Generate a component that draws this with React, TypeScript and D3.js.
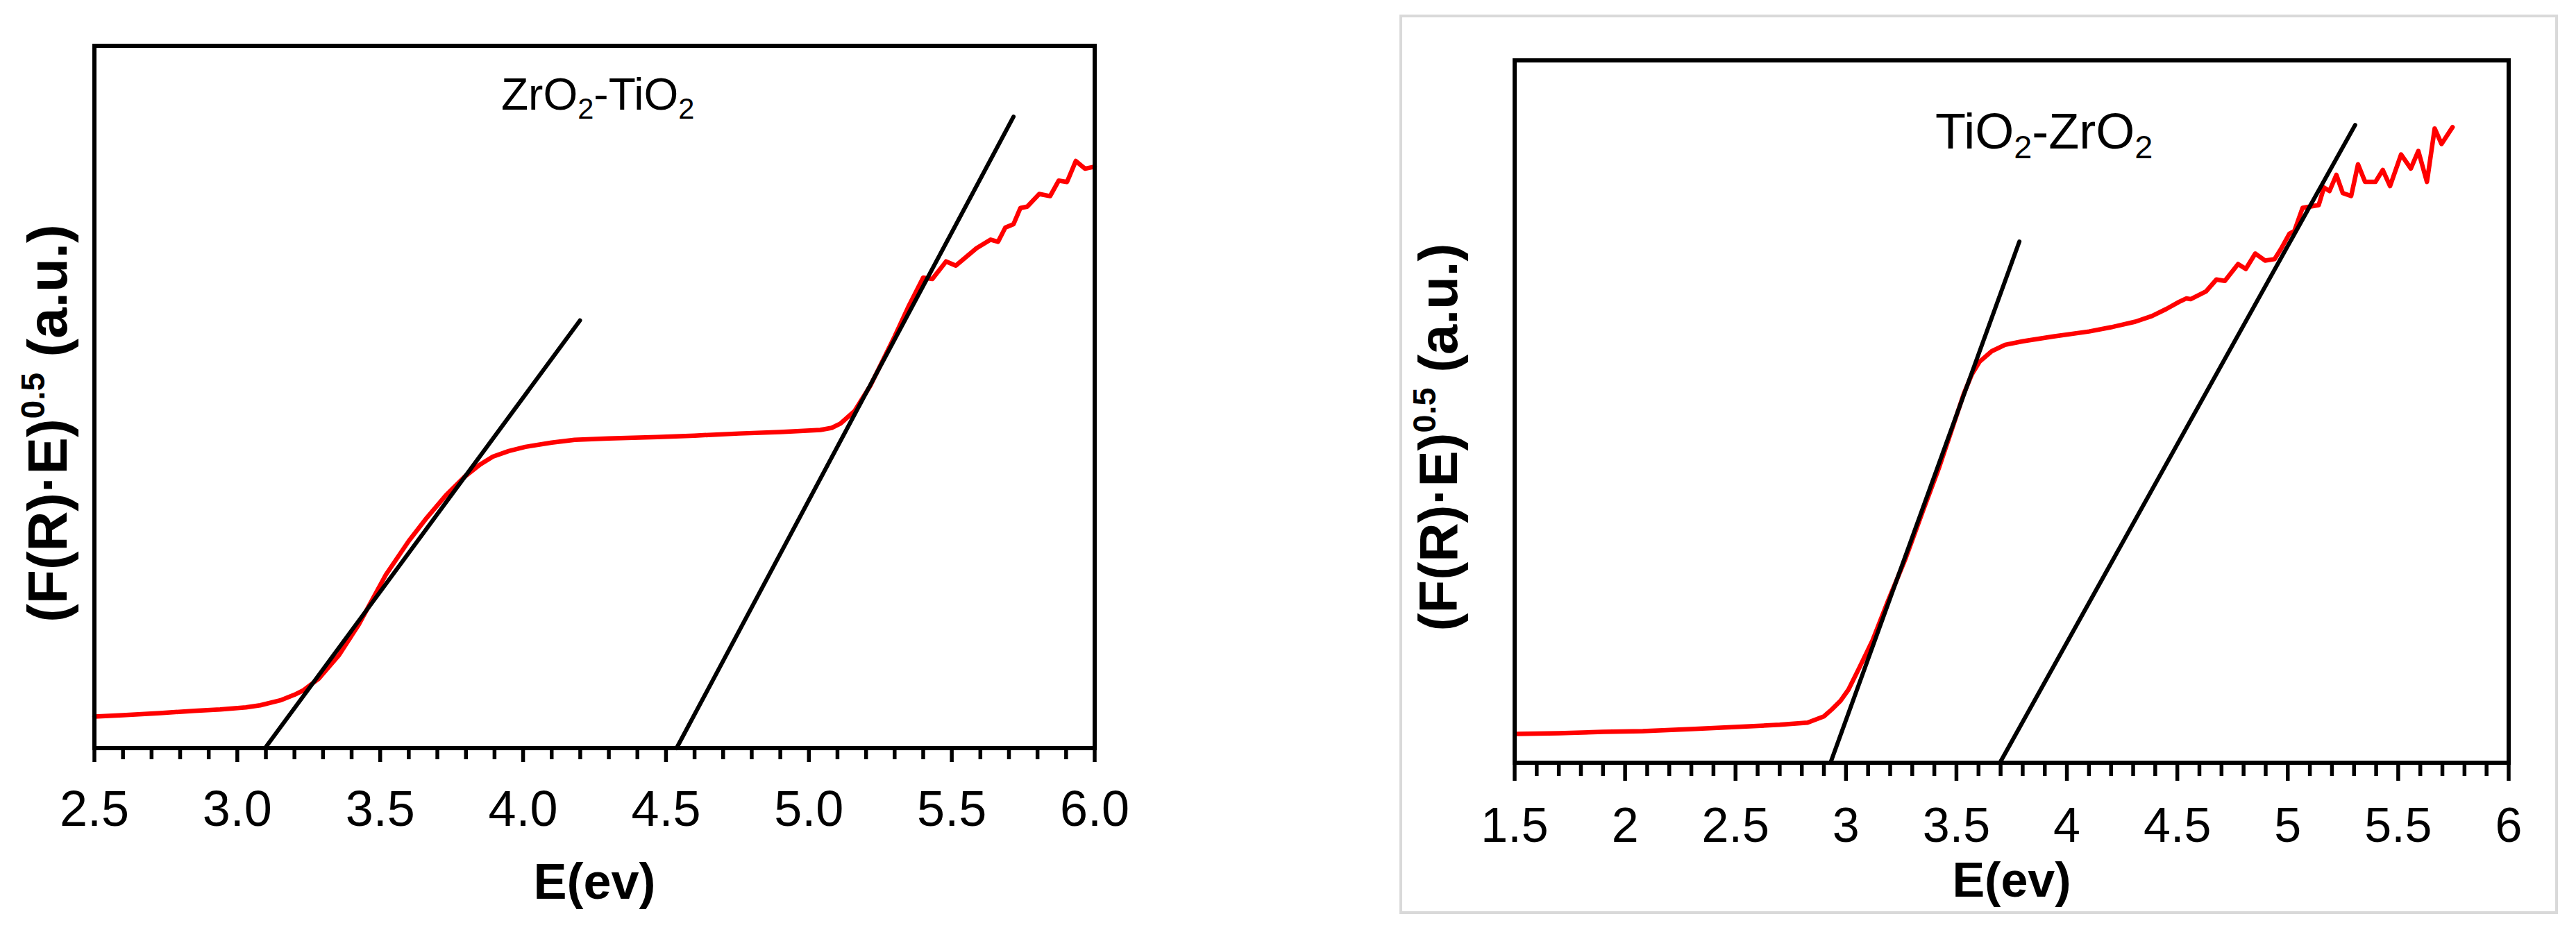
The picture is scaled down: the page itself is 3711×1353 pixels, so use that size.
import React from "react";
import * as d3 from "d3";

// ---------- data ----------
const leftEnergy = [2.5, 2.6, 2.73, 2.85, 2.94, 3.03, 3.08, 3.15, 3.2, 3.23, 3.285, 3.355, 3.425, 3.52, 3.6, 3.663, 3.73, 3.797, 3.85, 3.894, 3.95, 4.008, 4.1, 4.18, 4.3, 4.47, 4.6, 4.756, 4.9, 5.04, 5.08, 5.11, 5.16, 5.215, 5.3, 5.35, 5.4, 5.432, 5.48, 5.514, 5.587, 5.636, 5.662, 5.687, 5.716, 5.74, 5.764, 5.806, 5.844, 5.874, 5.903, 5.934, 5.966, 6.0];
const leftSignal = [4.5, 4.7, 5.0, 5.3, 5.5, 5.8, 6.1, 6.8, 7.6, 8.2, 9.9, 13.2, 17.6, 24.7, 29.5, 32.8, 36.0, 38.7, 40.4, 41.5, 42.3, 42.9, 43.5, 43.9, 44.1, 44.3, 44.5, 44.8, 45.0, 45.3, 45.6, 46.2, 48.0, 51.6, 58.6, 63.0, 67.0, 66.8, 69.3, 68.7, 71.2, 72.4, 72.1, 74.1, 74.6, 76.9, 77.1, 78.9, 78.6, 80.8, 80.6, 83.6, 82.5, 82.8];
const leftTangents = [
  [[3.097, 0], [4.199, 60.9]],
  [[4.537, 0], [5.716, 89.9]],
];
const leftTicks = [2.5, 3.0, 3.5, 4.0, 4.5, 5.0, 5.5, 6.0];

const rightEnergy = [1.51, 1.7, 1.9, 2.08, 2.3, 2.5, 2.7, 2.826, 2.9, 2.936, 2.975, 3.011, 3.06, 3.12, 3.19, 3.27, 3.35, 3.42, 3.48, 3.533, 3.57, 3.605, 3.66, 3.72, 3.8, 3.94, 4.1, 4.2, 4.31, 4.385, 4.45, 4.507, 4.54, 4.56, 4.63, 4.677, 4.715, 4.775, 4.81, 4.853, 4.897, 4.94, 4.97, 5.007, 5.03, 5.067, 5.104, 5.14, 5.164, 5.189, 5.22, 5.249, 5.287, 5.318, 5.35, 5.397, 5.43, 5.463, 5.513, 5.557, 5.591, 5.63, 5.665, 5.696, 5.746];
const rightSignal = [4.1, 4.2, 4.4, 4.5, 4.8, 5.1, 5.4, 5.7, 6.6, 7.6, 8.8, 10.4, 13.5, 17.4, 23.0, 29.1, 36.0, 41.9, 47.5, 52.5, 55.3, 57.1, 58.6, 59.5, 60.0, 60.7, 61.4, 62.0, 62.8, 63.6, 64.6, 65.6, 66.1, 66.0, 67.1, 68.8, 68.6, 71.0, 70.3, 72.5, 71.5, 71.7, 73.2, 75.3, 75.7, 79.0, 79.2, 79.4, 81.9, 81.4, 83.7, 81.1, 80.7, 85.2, 82.7, 82.7, 84.4, 82.1, 86.6, 84.6, 87.1, 82.7, 90.3, 88.1, 90.5];
const rightTangents = [
  [[2.93, 0], [3.785, 74.2]],
  [[3.697, 0], [5.305, 90.8]],
];
const rightTicks = [1.5, 2, 2.5, 3, 3.5, 4, 4.5, 5, 5.5, 6];

const FONT = "'Liberation Sans', Arial, Helvetica, sans-serif";

type PanelProps = {
  x0: number; x1: number; y0: number; y1: number;
  domain: [number, number];
  energy: number[]; signal: number[];
  tangents: number[][][];
  ticks: number[];
  tickFmt: (v: number) => string;
  minorLen: number; majorLen: number;
  tickFont: number; tickBaseline: number;
  xTitleFont: number; xTitleBaseline: number;
  yLabelX: number; yLabelY: number; yFont: number;
  title: [string, string, string, string];
  titleX: number; titleY: number; titleFont: number;
};

function Panel(p: PanelProps) {
  const x = d3.scaleLinear().domain(p.domain).range([p.x0, p.x1]);
  const y = d3.scaleLinear().domain([0, 100]).range([p.y1, p.y0]);
  const pts = p.energy.map((e, i) => [e, p.signal[i]] as [number, number]);
  const line = d3.line<[number, number]>().x((d) => x(d[0])).y((d) => y(d[1]));
  const minor = d3.range(Math.round(p.domain[0] * 10), Math.round(p.domain[1] * 10) + 1).map((v) => v / 10);
  const isMajor = (v: number) => Math.abs(v * 2 - Math.round(v * 2)) < 1e-6;
  return (
    <g>
      <path d={line(pts) ?? ""} fill="none" stroke="#ff0000" strokeWidth={6.5} strokeLinejoin="round" strokeLinecap="round" />
      {p.tangents.map((t, i) => (
        <line key={i} x1={x(t[0][0])} y1={y(t[0][1])} x2={x(t[1][0])} y2={y(t[1][1])} stroke="#000" strokeWidth={6} strokeLinecap="round" />
      ))}
      <rect x={p.x0} y={p.y0} width={p.x1 - p.x0} height={p.y1 - p.y0} fill="none" stroke="#000" strokeWidth={6} />
      {minor.map((v) => (
        <line key={v} x1={x(v)} x2={x(v)} y1={p.y1} y2={p.y1 + (isMajor(v) ? p.majorLen : p.minorLen)} stroke="#000" strokeWidth={5.5} />
      ))}
      {p.ticks.map((v) => (
        <text key={v} x={x(v)} y={p.tickBaseline} textAnchor="middle" fontFamily={FONT} fontSize={p.tickFont} fill="#000">
          {p.tickFmt(v)}
        </text>
      ))}
      <text x={(p.x0 + p.x1) / 2} y={p.xTitleBaseline} textAnchor="middle" fontFamily={FONT} fontSize={p.xTitleFont} fontWeight="bold" fill="#000">
        E(ev)
      </text>
      <text transform={`translate(${p.yLabelX},${p.yLabelY}) rotate(-90)`} textAnchor="middle" fontFamily={FONT} fontSize={p.yFont} fontWeight="bold" fill="#000">
        <tspan>(F(R)·E)</tspan>
        <tspan fontSize={p.yFont * 0.6} dy={-p.yFont * 0.4}>0.5</tspan>
        <tspan dy={p.yFont * 0.4}> (a.u.)</tspan>
      </text>
      <text x={p.titleX} y={p.titleY} fontFamily={FONT} fontSize={p.titleFont} fill="#000">
        <tspan>{p.title[0]}</tspan>
        <tspan fontSize={p.titleFont * 0.65} dy={p.titleFont * 0.2}>{p.title[1]}</tspan>
        <tspan dy={-p.titleFont * 0.2}>{p.title[2]}</tspan>
        <tspan fontSize={p.titleFont * 0.65} dy={p.titleFont * 0.2}>{p.title[3]}</tspan>
      </text>
    </g>
  );
}

export default function App() {
  return (
    <div style={{ position: "fixed", left: 0, top: 0 }}>
      <svg width={3711} height={1353} viewBox="0 0 3711 1353" style={{ display: "block", background: "#fff" }}>
        <rect x={0} y={0} width={3711} height={1353} fill="#fff" />
        <Panel
          x0={136} x1={1577} y0={66} y1={1078}
          domain={[2.5, 6.0]}
          energy={leftEnergy} signal={leftSignal} tangents={leftTangents}
          ticks={leftTicks} tickFmt={(v) => d3.format(".1f")(v)}
          minorLen={16} majorLen={20}
          tickFont={72} tickBaseline={1190}
          xTitleFont={72} xTitleBaseline={1295}
          yLabelX={96} yLabelY={610} yFont={80}
          title={["ZrO", "2", "-TiO", "2"]} titleX={722} titleY={158} titleFont={64}
        />
        <rect x={2018} y={23} width={1665} height={1292} fill="none" stroke="#d9d9d9" strokeWidth={4} />
        <Panel
          x0={2182} x1={3614} y0={87} y1={1099}
          domain={[1.5, 6.0]}
          energy={rightEnergy} signal={rightSignal} tangents={rightTangents}
          ticks={rightTicks} tickFmt={(v) => d3.format("")(v)}
          minorLen={19} majorLen={26}
          tickFont={70} tickBaseline={1213}
          xTitleFont={70} xTitleBaseline={1292}
          yLabelX={2099} yLabelY={630} yFont={78}
          title={["TiO", "2", "-ZrO", "2"]} titleX={2788} titleY={214} titleFont={72}
        />
      </svg>
    </div>
  );
}
